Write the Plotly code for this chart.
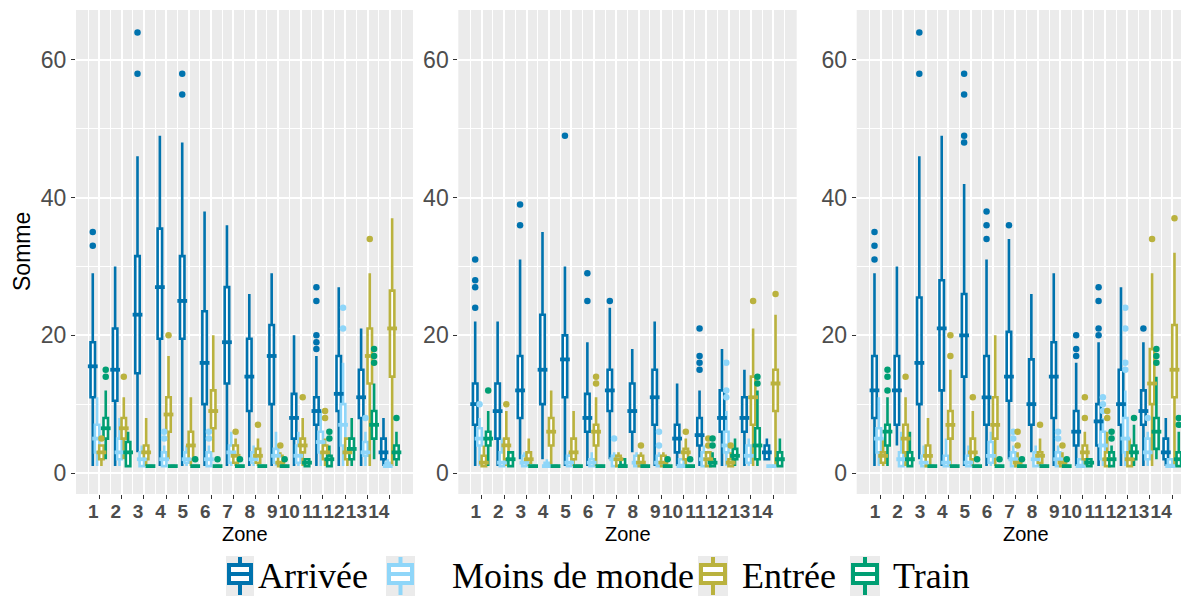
import plotly.graph_objects as go

# target picture size and the browser's default 8px body margin
W, H = 1189, 596
OFF = 8
FIG_W, FIG_H = W - OFF, H - OFF

ZONES = list(range(1, 15))
ZONE_LABELS = [str(z) for z in ZONES]
SERIES = ["Arrivée", "Moins de monde", "Entrée", "Train"]
COLORS = ["#0073AE", "#8FD6F9", "#BAB23E", "#009E73"]

# (lower whisker, Q1, median, Q3, upper whisker) for zones 1..14
P1_ARRIVEE = [(1, 11, 15.5, 19, 29), (1, 10.5, 15, 21, 30), (3, 14.5, 23, 31.5, 46), (1, 19.5, 27, 35.5, 49),
              (1, 19.5, 25, 31.5, 48), (1, 10, 16, 23.5, 38), (1, 13, 19, 27, 36), (1, 9, 14, 19.5, 26),
              (1, 10, 17, 21.5, 29), (1, 5, 8, 11.5, 20), (1, 7, 9, 11, 17), (1, 9, 11.5, 17, 27),
              (1, 8, 11, 15, 21), (1, 2, 3, 5, 8)]
P1_MOINS = [(1, 3, 5, 7, 11), (1, 2, 3, 5, 8), (1, 1, 2, 3, 4), (1, 1, 2, 3, 4),
            (1, 1.5, 2, 3, 4), (1, 1, 2, 3, 4), (1, 1.5, 3, 4, 6), (1, 1.5, 2, 3, 4),
            (1, 1.5, 2.5, 3.5, 6), (1, 1.5, 2.5, 4, 6), (1, 3, 4.5, 6, 9), (1, 4, 7, 10, 16),
            (1, 2.5, 3, 4.5, 6), (1, 1, 1, 1.5, 2)]
P1_ENTREE = [(1, 2, 3, 4, 4), (2, 5, 6.5, 8, 11), (1, 2, 3, 4, 8), (2, 6, 8.5, 11, 17),
             (1, 2, 4, 6, 11), (3, 6.5, 9, 12, 20), (1, 1.5, 2.5, 4, 5), (1, 1.5, 2.5, 3.5, 5),
             (1, 1, 1.5, 2.5, 3), (1, 3, 4, 5, 8), (1, 2, 3, 4, 5), (1, 2, 3, 5, 5),
             (1, 13, 17, 21, 29), (1, 14, 21, 26.5, 37)]
P1_TRAIN = [(2, 5, 6.5, 8, 12), (1, 1, 3, 4.5, 6), (1, 1, 1, 1, 1), (1, 1, 1, 1, 1),
            (1, 1, 1, 1, 1), (1, 1, 1, 1, 1), (1, 1, 1, 1, 1), (1, 1, 1, 1, 1),
            (1, 1, 1, 1, 1), (1, 1, 1.5, 2, 2), (1, 1, 2, 2.5, 4), (1, 2, 3.5, 5, 8),
            (2, 5, 7, 9, 13), (1, 2, 3, 4, 6)]
P1_ARRIVEE_OUT = {1: [35, 33], 3: [64, 58], 5: [58, 55], 11: [27, 25, 20, 19, 18]}
P1_MOINS_OUT = {4: [5, 6], 6: [5, 6], 12: [24, 21], 13: [8]}
P1_ENTREE_OUT = {1: [5], 2: [14], 4: [20], 7: [6], 8: [7], 9: [4], 10: [11], 11: [9, 8], 13: [34]}
P1_TRAIN_OUT = {1: [15, 14], 5: [2], 6: [2], 7: [2], 9: [2], 11: [6, 5], 13: [18, 17, 16], 14: [8]}

P2_ARRIVEE = [(1, 7, 10, 13, 22), (1, 5, 9, 13, 22), (2, 8, 12, 17, 31), (2, 10, 15, 23, 35),
              (1, 11, 16.5, 20, 30), (1, 6, 8, 11.5, 19), (2, 9, 12, 15, 24), (3, 6, 9, 13, 18),
              (1, 7, 11, 15, 22), (1, 3, 5, 7, 13), (1, 4, 5.5, 8, 12), (1, 6, 8, 12, 18),
              (1, 6, 8, 11, 15), (2, 2, 3, 4, 5)]
P2_MOINS = [(1, 4, 5, 6.5, 8), (1, 1, 1.5, 3, 5), (1, 1, 1.5, 2.5, 3), (1, 1, 1, 1.5, 2),
            (1, 1, 1.5, 2.5, 3), (1, 1, 1.5, 2, 3), (1, 1, 2, 2.5, 3), (1, 1, 1.5, 2.5, 3),
            (1, 1, 1.5, 2.5, 3), (1, 1, 1, 2, 2), (1, 1, 2, 3, 4), (1, 3, 4, 6, 9),
            (1, 1.5, 2.5, 4, 5), (1, 1, 1, 1, 1)]
P2_ENTREE = [(1, 1, 1.5, 2.5, 4), (1, 2, 4, 5, 9), (1, 1.5, 2, 3, 5), (1, 4, 6, 8, 12),
             (1, 2, 3, 5, 9), (1, 4, 6, 7, 11), (1, 1, 2, 2.5, 3), (1, 1, 1.5, 2.5, 3),
             (1, 1, 1.5, 2.5, 3), (1, 2, 3, 3.5, 5), (1, 1, 2, 3, 3), (1, 1, 1.5, 2, 3),
             (1, 7, 11, 14, 21), (1, 9, 13, 15, 23)]
P2_TRAIN = [(1, 4, 5, 6, 9), (1, 1, 2, 3, 3), (1, 1, 1, 1, 1), (1, 1, 1, 1, 1),
            (1, 1, 1, 1, 1), (1, 1, 1, 1, 1), (1, 1, 1, 2, 2), (1, 1, 1, 1, 1),
            (1, 1, 1, 1, 1), (1, 1, 1, 1, 1), (1, 1, 1.5, 2, 3), (1, 2, 2.5, 3.5, 5),
            (1, 2, 4, 6.5, 12), (1, 1, 2, 3, 5)]
P2_ARRIVEE_OUT = {1: [31, 28, 27, 24], 3: [39, 36], 5: [49], 6: [29, 25], 7: [25], 11: [21, 17, 16, 15]}
P2_MOINS_OUT = {1: [10], 7: [5], 9: [6, 4], 12: [16, 12, 11]}
P2_ENTREE_OUT = {2: [10], 6: [14, 13], 8: [4], 10: [6], 11: [5, 4], 12: [4], 13: [25], 14: [26]}
P2_TRAIN_OUT = {1: [12], 9: [2], 10: [2], 11: [5, 4], 13: [14, 13]}

P3_ARRIVEE = [(1, 8, 12, 17, 29), (4, 7, 12, 17, 30), (2, 10, 16, 25.5, 46), (1, 12, 21, 28, 49),
              (1, 14, 20, 26, 42), (1, 7, 11, 17, 31), (2, 10.5, 14, 20.5, 34), (3, 7, 10, 16.5, 26),
              (1, 8, 14, 19, 29), (1, 4, 6, 9, 16), (1, 4, 7.5, 10, 19), (1, 7, 10, 15, 27),
              (1, 7, 9, 12, 19), (1, 2, 3, 5, 8)]
P3_MOINS = [(1, 3, 5, 6.5, 11), (1, 1, 2, 3, 6), (1, 1, 1.5, 2.5, 4), (1, 1, 1.5, 2.5, 5),
            (1, 1, 1.5, 2.5, 4), (1, 1.5, 2.5, 4.5, 6), (1, 1, 2, 3, 4), (1, 1, 2, 3, 4),
            (1, 1, 2, 3, 4), (1, 1, 1, 2, 2), (1, 2, 4, 6, 8), (1, 3, 5, 8, 12),
            (1, 2, 3, 5, 6), (1, 1, 1, 2, 2)]
P3_ENTREE = [(1, 1.5, 2.5, 3, 5), (1, 3, 5, 7, 11), (1, 1, 2.5, 4, 8), (1, 5, 7, 9, 15),
             (1, 2, 3, 5, 9), (1, 5, 7, 11, 20), (1, 1, 1.5, 2, 3), (1, 1.5, 2.5, 3, 5),
             (1, 1, 1.5, 2, 3), (1, 2, 3, 4, 6), (1, 1, 2, 3, 6), (1, 1, 2, 3, 5),
             (1, 10, 13, 18, 29), (1, 11, 15, 21.5, 32)]
P3_TRAIN = [(1, 4, 6, 7, 11), (1, 1, 2, 3, 6), (1, 1, 1, 1, 1), (1, 1, 1, 1, 1),
            (1, 1, 1, 1, 1), (1, 1, 1, 1, 1), (1, 1, 1, 1, 1), (1, 1, 1, 1, 1),
            (1, 1, 1, 1, 1), (1, 1, 1.5, 2, 2), (1, 1, 2, 3, 4), (1, 2, 3, 4, 7),
            (2, 3.5, 6, 8, 14), (1, 1, 2, 3, 6)]
P3_ARRIVEE_OUT = {1: [35, 33, 31], 3: [64, 58], 5: [58, 55, 49, 48], 6: [38, 36, 34], 7: [36],
                  10: [20, 18, 17], 11: [27, 25, 21, 20], 13: [21]}
P3_MOINS_OUT = {7: [6, 5], 9: [6, 5], 11: [11, 10, 9], 12: [24, 21, 16, 15], 13: [8]}
P3_ENTREE_OUT = {2: [14], 4: [20, 17], 5: [11], 7: [6, 4], 8: [7], 9: [4], 10: [11, 8], 11: [9, 8],
                 13: [34], 14: [37]}
P3_TRAIN_OUT = {1: [15, 14, 12], 5: [2], 6: [2], 7: [2], 9: [2], 11: [6, 5], 12: [8], 13: [18, 17, 16],
                14: [8, 7]}

PANELS = [
    ([P1_ARRIVEE, P1_MOINS, P1_ENTREE, P1_TRAIN], [P1_ARRIVEE_OUT, P1_MOINS_OUT, P1_ENTREE_OUT, P1_TRAIN_OUT]),
    ([P2_ARRIVEE, P2_MOINS, P2_ENTREE, P2_TRAIN], [P2_ARRIVEE_OUT, P2_MOINS_OUT, P2_ENTREE_OUT, P2_TRAIN_OUT]),
    ([P3_ARRIVEE, P3_MOINS, P3_ENTREE, P3_TRAIN], [P3_ARRIVEE_OUT, P3_MOINS_OUT, P3_ENTREE_OUT, P3_TRAIN_OUT]),
]

# layout (pixels in the final picture)
X_DOMAINS_PX = [(76, 413), (458.3, 796.7), (856.7, 1189)]
X_RANGES = [(-0.04, 15.03), (-0.043, 15.04), (-0.084, 14.745)]
Y_DOMAIN_PX = (10, 494)
Y_RANGE = (-3.05, 67.26)
DODGE = [-0.29, -0.097, 0.097, 0.29]
BOX_W = 0.2

BG = "#EBEBEB"
AX_TXT = "#4D4D4D"


def px_x(v):
    return (v - OFF) / FIG_W


def px_y(v):
    return 1 - (v - OFF) / FIG_H


fig = go.Figure()

for p, (stats_by_series, outs_by_series) in enumerate(PANELS):
    xa = "x" if p == 0 else f"x{p + 1}"
    ya = "y" if p == 0 else f"y{p + 1}"
    for s, (stats, outs) in enumerate(zip(stats_by_series, outs_by_series)):
        col = COLORS[s]
        xs = [z + DODGE[s] for z in ZONES]
        fig.add_trace(go.Box(
            x=xs,
            lowerfence=[t[0] for t in stats], q1=[t[1] for t in stats], median=[t[2] for t in stats],
            q3=[t[3] for t in stats], upperfence=[t[4] for t in stats],
            width=BOX_W, fillcolor="white", line=dict(color=col, width=2.6),
            whiskerwidth=0, boxpoints=False, xaxis=xa, yaxis=ya,
            showlegend=False, hoverinfo="skip", name=SERIES[s]))
        # thicker median bar
        fig.add_trace(go.Scatter(
            x=xs, y=[t[2] for t in stats], mode="markers",
            marker=dict(symbol="line-ew", size=7, line=dict(color=col, width=3.8)),
            xaxis=xa, yaxis=ya, showlegend=False, hoverinfo="skip"))
        ox, oy = [], []
        for z, vals in outs.items():
            for v in vals:
                ox.append(z + DODGE[s])
                oy.append(v)
        fig.add_trace(go.Scatter(
            x=ox, y=oy, mode="markers", marker=dict(color=col, size=6.5),
            xaxis=xa, yaxis=ya, showlegend=False, hoverinfo="skip", cliponaxis=False))

layout = dict(
    width=FIG_W, height=FIG_H, margin=dict(l=0, r=0, t=0, b=0, autoexpand=False),
    paper_bgcolor="white", plot_bgcolor=BG, boxmode="overlay", showlegend=False,
    font=dict(family="Liberation Sans, Arial, sans-serif"),
)
ydom = [px_y(Y_DOMAIN_PX[1]), px_y(Y_DOMAIN_PX[0])]
for p in range(3):
    sfx = "" if p == 0 else str(p + 1)
    layout[f"xaxis{sfx}"] = dict(
        domain=[max(0.0, px_x(X_DOMAINS_PX[p][0])), min(1.0, px_x(X_DOMAINS_PX[p][1]))],
        range=list(X_RANGES[p]), anchor=f"y{sfx}", automargin=False,
        tickmode="array", tickvals=ZONES, ticktext=ZONE_LABELS, tickangle=0,
        ticklabelposition="outside left",
        tickfont=dict(size=19, color=AX_TXT, weight="bold"),
        ticks="outside", ticklen=4, tickwidth=1.2, tickcolor="#333333",
        showgrid=True, gridcolor="white", gridwidth=1.6, zeroline=False, showline=False,
        minor=dict(tickmode="array", tickvals=[z - 0.5 for z in ZONES] + [14.5],
                   showgrid=True, gridcolor="white", gridwidth=0.8, ticks=""),
        fixedrange=True,
    )
    layout[f"yaxis{sfx}"] = dict(
        domain=ydom, range=list(Y_RANGE), anchor=f"x{sfx}", automargin=False,
        tickmode="array", tickvals=[0, 20, 40, 60], ticktext=["0", "20", "40", "60"],
        tickfont=dict(size=23, color=AX_TXT),
        ticks="outside", ticklen=4, tickwidth=1.2, tickcolor="#333333",
        showgrid=True, gridcolor="white", gridwidth=1.6, zeroline=False, showline=False,
        minor=dict(tickmode="array", tickvals=[10, 30, 50], showgrid=True,
                   gridcolor="white", gridwidth=0.8, ticks=""),
        fixedrange=True,
    )

annotations = []
zone_centers_px = [244.5, 627.5, 1026]
for c in zone_centers_px:
    annotations.append(dict(text="Zone", x=px_x(c), y=px_y(534), xref="paper", yref="paper",
                            showarrow=False, xanchor="center", yanchor="middle",
                            font=dict(size=20, color="black")))
annotations.append(dict(text="Somme", x=px_x(22), y=px_y(252), xref="paper", yref="paper",
                        showarrow=False, textangle=-90, xanchor="center", yanchor="middle",
                        font=dict(size=23, color="black")))

# manual legend (keys + labels)
shapes = []
LEG_KEYS_PX = [(226, 254), (386, 415), (698, 728), (850, 880)]
LEG_TEXT_X = [256, 450, 740, 891]
key_top, key_bot = 556, 596
box_top, box_bot = 565, 583
for s in range(4):
    l, r = LEG_KEYS_PX[s]
    col = COLORS[s]
    shapes.append(dict(type="rect", xref="paper", yref="paper", x0=px_x(l), x1=px_x(r),
                       y0=px_y(key_bot), y1=px_y(key_top), fillcolor=BG, line=dict(width=0), layer="below"))
    cx = (l + r) / 2
    shapes.append(dict(type="line", xref="paper", yref="paper", x0=px_x(cx), x1=px_x(cx),
                       y0=px_y(key_bot - 1), y1=px_y(key_top + 1), line=dict(color=col, width=4)))
    shapes.append(dict(type="rect", xref="paper", yref="paper", x0=px_x(l + 3), x1=px_x(r - 3),
                       y0=px_y(box_bot), y1=px_y(box_top), fillcolor="white", line=dict(color=col, width=4)))
    shapes.append(dict(type="line", xref="paper", yref="paper", x0=px_x(l + 3), x1=px_x(r - 3),
                       y0=px_y((box_top + box_bot) / 2), y1=px_y((box_top + box_bot) / 2),
                       line=dict(color=col, width=4)))
    annotations.append(dict(text=SERIES[s], x=px_x(LEG_TEXT_X[s]), y=px_y(576), xref="paper", yref="paper",
                            showarrow=False, xanchor="left", yanchor="middle",
                            font=dict(size=36, color="black", family="Liberation Serif, Times New Roman, serif")))

layout["annotations"] = annotations
layout["shapes"] = shapes
fig.update_layout(**layout)

fig.write_html("out.html")
